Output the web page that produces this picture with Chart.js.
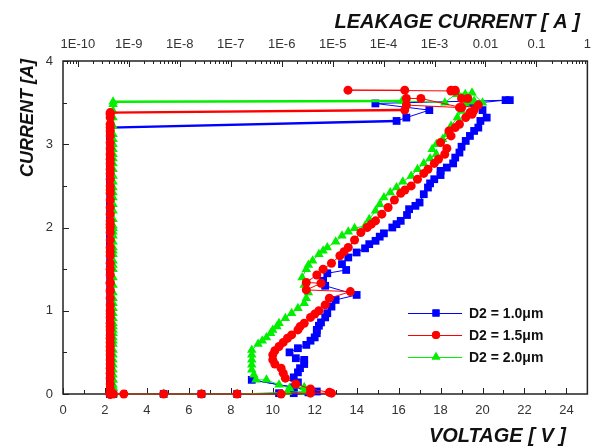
<!DOCTYPE html>
<html>
<head>
<meta charset="utf-8">
<script src="https://cdn.jsdelivr.net/npm/chart.js@4.4.0/dist/chart.umd.min.js"></script>
<style>
  html, body { margin: 0; padding: 0; background: #fff; }
  #wrap { width: 600px; height: 447px; }
</style>
</head>
<body>
<div id="wrap"><canvas id="tlpChart" width="600" height="447"></canvas></div>
<script>
// TLP I-V (bottom axis, voltage) plus leakage after each pulse (top axis)
const seriesNames = ['D2 = 1.0\u03bcm', 'D2 = 1.5\u03bcm', 'D2 = 2.0\u03bcm'];
const leakageTicks = [1e-10, 1e-9, 1e-8, 1e-7, 1e-6, 1e-5, 1e-4, 1e-3, 0.01, 0.1, 1];

// D2 = 1.0um
const blueCurrent = [0, 0, 0, 0, 0.01, 0.01, 0.02, 0.03,
  0.17, 0.08, 0.14, 0.2, 0.26, 0.31, 0.36, 0.41, 0.43, 0.5,
  0.55, 0.59, 0.64, 0.68, 0.73, 0.77, 0.82, 0.86, 0.92, 0.97,
  1.05, 1.13, 1.19, 1.3, 1.36, 1.45, 1.49, 1.56, 1.64, 1.7,
  1.75, 1.8, 1.84, 1.89, 1.93, 2.0, 2.04, 2.08, 2.15, 2.22,
  2.26, 2.3, 2.4, 2.48, 2.53, 2.58, 2.63, 2.68, 2.72, 2.77,
  2.84, 2.9, 2.97, 3.04, 3.1, 3.16, 3.2,
  3.28, 3.32, 3.41, 3.49, 3.53];
const blueVoltage = [2.4, 4.8, 6.6, 8.3, 10.3, 11.0, 11.7, 12.1,
  9.0, 11.0, 11.2, 11.0, 11.2, 11.3, 11.5, 11.5, 11.1, 10.8,
  11.2, 11.6, 11.8, 12.0, 12.1, 12.1, 12.2, 12.3, 12.5, 12.6,
  12.8, 13.0, 14.0, 12.5, 12.4, 12.6, 13.5, 13.3, 13.6, 14.0,
  14.4, 14.6, 14.9, 15.1, 15.3, 15.7, 15.9, 16.1, 16.4, 16.5,
  16.8, 17.0, 17.2, 17.4, 17.5, 17.7, 18.0, 18.0, 18.3, 18.6,
  18.7, 18.9, 19.0, 19.2, 19.4, 19.6, 19.8,
  19.9, 20.2, 20.0, 19.5, 21.1];
const blueLeakage = [4.3e-10, 4.3e-10, 4.3e-10, 4.3e-10, 4.3e-10, 4.3e-10, 4.3e-10, 4.3e-10,
  4.3e-10, 4.3e-10, 4.3e-10, 4.3e-10, 4.3e-10, 4.3e-10, 4.3e-10, 4.3e-10, 4.3e-10, 4.3e-10,
  4.3e-10, 4.3e-10, 4.3e-10, 4.3e-10, 4.3e-10, 4.3e-10, 4.3e-10, 4.3e-10, 4.3e-10, 4.3e-10,
  4.3e-10, 4.3e-10, 4.3e-10, 4.3e-10, 4.3e-10, 4.3e-10, 4.3e-10, 4.3e-10, 4.3e-10, 4.3e-10,
  4.3e-10, 4.3e-10, 4.3e-10, 4.3e-10, 4.3e-10, 4.3e-10, 4.3e-10, 4.3e-10, 4.3e-10, 4.3e-10,
  4.3e-10, 4.3e-10, 4.3e-10, 4.3e-10, 4.3e-10, 4.3e-10, 4.3e-10, 4.3e-10, 4.3e-10, 4.3e-10,
  4.3e-10, 4.3e-10, 4.3e-10, 4.3e-10, 4.3e-10, 4.3e-10, 4.3e-10,
  1.8e-4, 2.8e-4, 7.9e-4, 6.9e-5, 0.03];

// D2 = 1.5um
const redCurrent = [0, 0, 0, 0, 0, 0, 0.01, 0.01,
  0.02, 0.06, 0.12, 0.19, 0.25, 0.31, 0.36, 0.41, 0.47, 0.52,
  0.57, 0.62, 0.67, 0.71, 0.77, 0.81, 0.85, 0.92, 0.96, 1.0,
  1.07, 1.15, 1.23, 1.25, 1.33, 1.34, 1.43, 1.5, 1.57, 1.66,
  1.71, 1.76, 1.85, 1.94, 2.0, 2.04, 2.08, 2.16, 2.24, 2.33,
  2.41, 2.45, 2.5, 2.58, 2.65, 2.7, 2.77, 2.82, 2.88, 2.95,
  3.02, 3.1, 3.16, 3.2, 3.24, 3.32, 3.36, 3.38,
  3.41, 3.47, 3.44, 3.55, 3.55, 3.65, 3.65, 3.64];
const redVoltage = [2.4, 2.9, 4.8, 6.6, 8.3, 10.4, 11.8, 12.8,
  12.7, 11.8, 11.1, 10.6, 10.5, 10.4, 10.1, 10.0, 10.0, 10.1,
  10.3, 10.5, 10.7, 10.9, 11.2, 11.3, 11.5, 11.8, 12.0, 12.2,
  12.5, 12.7, 13.7, 11.6, 12.3, 11.6, 12.1, 12.4, 12.8, 13.2,
  13.4, 13.6, 13.9, 14.2, 14.5, 14.7, 14.9, 15.2, 15.5, 15.8,
  16.1, 16.3, 16.6, 16.9, 17.2, 17.4, 17.7, 17.9, 18.2, 18.3,
  18.0, 18.5, 18.4, 18.7, 18.9, 19.2, 19.5, 19.4,
  19.6, 19.8, 18.9, 19.3, 19.0, 18.7, 18.5, 18.5];
const redLeakage = [4.3e-10, 4.3e-10, 4.3e-10, 4.3e-10, 4.3e-10, 4.3e-10, 4.3e-10, 4.3e-10,
  4.3e-10, 4.3e-10, 4.3e-10, 4.3e-10, 4.3e-10, 4.3e-10, 4.3e-10, 4.3e-10, 4.3e-10, 4.3e-10,
  4.3e-10, 4.3e-10, 4.3e-10, 4.3e-10, 4.3e-10, 4.3e-10, 4.3e-10, 4.3e-10, 4.3e-10, 4.3e-10,
  4.3e-10, 4.3e-10, 4.3e-10, 4.3e-10, 4.3e-10, 4.3e-10, 4.3e-10, 4.3e-10, 4.3e-10, 4.3e-10,
  4.3e-10, 4.3e-10, 4.3e-10, 4.3e-10, 4.3e-10, 4.3e-10, 4.3e-10, 4.3e-10, 4.3e-10, 4.3e-10,
  4.3e-10, 4.3e-10, 4.3e-10, 4.3e-10, 4.3e-10, 4.3e-10, 4.3e-10, 4.3e-10, 4.3e-10, 4.3e-10,
  4.3e-10, 4.3e-10, 4.3e-10, 4.3e-10, 4.3e-10, 4.3e-10, 4.3e-10, 4.3e-10,
  2.6e-4, 2.8e-4, 3.4e-3, 5.4e-4, 2.8e-4, 2.6e-4, 2.0e-5, 2.5e-3];

// D2 = 2.0um
const greenCurrent = [0, 0, 0, 0, 0.02, 0.03, 0.08, 0.07, 0.11, 0.17,
  0.17, 0.23, 0.29, 0.35, 0.41, 0.47, 0.53, 0.6, 0.64, 0.68,
  0.73, 0.77, 0.81, 0.85, 0.91, 0.97, 1.03, 1.09, 1.15, 1.22,
  1.31, 1.4, 1.5, 1.55, 1.6, 1.68, 1.72, 1.76, 1.83, 1.9,
  1.95, 1.99, 2.02, 2.1, 2.2, 2.28, 2.36, 2.42, 2.48, 2.55,
  2.62, 2.7, 2.77, 2.83, 2.88, 2.94, 3.0, 3.06, 3.12, 3.22,
  3.32, 3.4, 3.48, 3.51,
  3.52, 3.5, 3.62, 3.6];
const greenVoltage = [2.4, 4.8, 6.6, 8.3, 10.7, 11.5, 11.5, 10.8, 10.3, 9.7,
  9.2, 9.1, 9.0, 9.0, 9.0, 9.0, 9.0, 9.3, 9.5, 9.7,
  9.9, 10.0, 10.2, 10.3, 10.6, 10.9, 11.2, 11.5, 11.6, 11.7,
  11.5, 11.4, 11.6, 11.7, 11.9, 12.2, 12.4, 12.6, 13.0, 13.3,
  13.6, 13.9, 14.4, 14.6, 14.9, 15.1, 15.3, 15.6, 15.9, 16.2,
  16.6, 16.9, 17.2, 17.5, 17.8, 17.6, 17.8, 18.1, 18.3, 18.5,
  18.8, 19.0, 19.2, 19.4,
  19.6, 20.0, 19.5, 18.8];
const greenLeakage = [4.9e-10, 4.9e-10, 4.9e-10, 4.9e-10, 4.9e-10, 4.9e-10, 4.9e-10, 4.9e-10, 4.9e-10, 4.9e-10,
  4.9e-10, 4.9e-10, 4.9e-10, 4.9e-10, 4.9e-10, 4.9e-10, 4.9e-10, 4.9e-10, 4.9e-10, 4.9e-10,
  4.9e-10, 4.9e-10, 4.9e-10, 4.9e-10, 4.9e-10, 4.9e-10, 4.9e-10, 4.9e-10, 4.9e-10, 4.9e-10,
  4.9e-10, 4.9e-10, 4.9e-10, 4.9e-10, 4.9e-10, 4.9e-10, 4.9e-10, 4.9e-10, 4.9e-10, 4.9e-10,
  4.9e-10, 4.9e-10, 4.9e-10, 4.9e-10, 4.9e-10, 4.9e-10, 4.9e-10, 4.9e-10, 4.9e-10, 4.9e-10,
  4.9e-10, 4.9e-10, 4.9e-10, 4.9e-10, 4.9e-10, 4.9e-10, 4.9e-10, 4.9e-10, 4.9e-10, 4.9e-10,
  4.9e-10, 4.9e-10, 4.9e-10, 4.9e-10,
  2.3e-4, 1.6e-3, 2.8e-3, 4.0e-3];

const BLUE = 'rgb(0,0,255)';
const RED = 'rgb(255,0,0)';
const GREEN = 'rgb(0,240,0)';
const FONT = '"Liberation Sans", Arial, sans-serif';

const pairs = (xs, ys) => xs.map((x, i) => ({ x: x, y: ys[i] }));

const ivSet = (label, xs, ys, color, style, radius, order) => ({
  label: label,
  data: pairs(xs, ys),
  xAxisID: 'x',
  yAxisID: 'y',
  showLine: true,
  borderColor: color,
  backgroundColor: color,
  borderWidth: 1,
  pointStyle: style,
  pointRadius: radius,
  pointBorderWidth: 0,
  order: order,
  clip: false
});

const leakSet = (label, xs, ys, color, style, radius, order) => ({
  label: label,
  data: pairs(xs, ys),
  xAxisID: 'x2',
  yAxisID: 'y',
  showLine: true,
  borderColor: color,
  backgroundColor: color,
  borderWidth: 2.5,
  segment: {
    borderWidth: ctx => (ctx.p0.parsed.x > 1e-6 ? 1 : 2.5)
  },
  pointStyle: style,
  pointRadius: radius,
  pointBorderWidth: 0,
  order: order,
  clip: false
});

// frame, inward ticks, axis titles and the in-plot legend
const decorations = {
  id: 'decorations',
  beforeDatasetsDraw(chart) {
    const { ctx, chartArea: a, scales } = chart;
    ctx.save();
    ctx.strokeStyle = '#222';
    ctx.lineWidth = 1;
    ctx.beginPath();
    // bottom ticks
    for (let v = 0; v <= 25; v++) {
      const px = Math.round(scales.x.getPixelForValue(v)) + 0.5;
      const len = v % 2 === 0 ? 6 : 4;
      ctx.moveTo(px, a.bottom);
      ctx.lineTo(px, a.bottom - len);
    }
    // left ticks
    for (let v = 0; v <= 4; v += 0.5) {
      const py = Math.round(scales.y.getPixelForValue(v)) + 0.5;
      const len = v % 1 === 0 ? 6 : 4;
      ctx.moveTo(a.left, py);
      ctx.lineTo(a.left + len, py);
    }
    // top log ticks
    for (let e = -11; e <= 0; e++) {
      for (let m = 1; m <= 9; m++) {
        const val = m * Math.pow(10, e);
        if (val < scales.x2.min || val > scales.x2.max) continue;
        const px = Math.round(scales.x2.getPixelForValue(val)) + 0.5;
        const len = m === 1 ? 6 : 3;
        ctx.moveTo(px, a.top);
        ctx.lineTo(px, a.top + len);
      }
    }
    ctx.stroke();
    ctx.lineWidth = 1.5;
    ctx.strokeRect(a.left, a.top, a.right - a.left, a.bottom - a.top);
    ctx.restore();
  },
  afterDraw(chart) {
    const { ctx } = chart;
    ctx.save();
    ctx.fillStyle = '#111';
    ctx.font = 'italic bold 20px ' + FONT;
    ctx.textBaseline = 'alphabetic';
    ctx.textAlign = 'right';
    ctx.fillText('LEAKAGE CURRENT [ A ]', 580, 28);
    ctx.fillText('VOLTAGE [ V ]', 566, 442);
    ctx.save();
    ctx.translate(33, 118);
    ctx.rotate(-Math.PI / 2);
    ctx.textAlign = 'center';
    ctx.font = 'italic bold 18px ' + FONT;
    ctx.fillText('CURRENT [A]', 0, 0);
    ctx.restore();

    // legend
    const colors = [BLUE, RED, GREEN];
    const styles = ['rect', 'circle', 'triangle'];
    const rows = [313, 335, 357];
    ctx.font = 'bold 14px ' + FONT;
    ctx.textAlign = 'left';
    ctx.textBaseline = 'middle';
    for (let i = 0; i < 3; i++) {
      const y = rows[i];
      ctx.strokeStyle = colors[i];
      ctx.lineWidth = 1;
      ctx.beginPath();
      ctx.moveTo(408, y + 0.5);
      ctx.lineTo(462, y + 0.5);
      ctx.stroke();
      ctx.fillStyle = colors[i];
      Chart.helpers.drawPoint(ctx, { pointStyle: styles[i], radius: styles[i] === 'circle' ? 4 : 5, borderWidth: 0 }, 436, y);
      ctx.fill();
      ctx.fillStyle = '#111';
      ctx.fillText(seriesNames[i], 469, y + 1);
    }
    ctx.restore();
  }
};

const tickFont = { family: FONT, size: 13 };

new Chart(document.getElementById('tlpChart'), {
  type: 'scatter',
  data: {
    datasets: [
      ivSet(seriesNames[0], blueVoltage, blueCurrent, BLUE, 'rect', 5.5, 5),
      leakSet(seriesNames[0], blueLeakage, blueCurrent, BLUE, 'rect', 5.5, 4),
      ivSet(seriesNames[2], greenVoltage, greenCurrent, GREEN, 'triangle', 5.5, 3),
      leakSet(seriesNames[2], greenLeakage, greenCurrent, GREEN, 'triangle', 5.5, 2),
      ivSet(seriesNames[1], redVoltage, redCurrent, RED, 'circle', 4.5, 1),
      leakSet(seriesNames[1], redLeakage, redCurrent, RED, 'circle', 4.5, 0)
    ]
  },
  options: {
    responsive: false,
    animation: false,
    devicePixelRatio: 1,
    layout: { padding: { left: 0, right: 12, top: 0, bottom: 0 } },
    plugins: {
      legend: { display: false },
      tooltip: { enabled: false }
    },
    scales: {
      x: {
        type: 'linear',
        position: 'bottom',
        min: 0,
        max: 25,
        grid: { display: false, drawTicks: false },
        border: { display: false },
        ticks: {
          stepSize: 2,
          includeBounds: false,
          padding: 9,
          color: '#333',
          font: tickFont,
          maxRotation: 0
        },
        afterFit(scale) { scale.height = 53; }
      },
      x2: {
        type: 'logarithmic',
        position: 'top',
        min: 5.1e-11,
        max: 1,
        grid: { display: false, drawTicks: false },
        border: { display: false },
        afterBuildTicks(scale) {
          scale.ticks = leakageTicks.map(v => ({ value: v }));
        },
        ticks: {
          autoSkip: false,
          maxRotation: 0,
          padding: 9,
          color: '#333',
          font: tickFont,
          callback(value) {
            if (value >= 0.01) return String(value);
            return '1E' + Math.round(Math.log10(value));
          }
        },
        afterFit(scale) { scale.height = 61; }
      },
      y: {
        type: 'linear',
        min: 0,
        max: 4,
        grid: { display: false, drawTicks: false },
        border: { display: false },
        ticks: {
          stepSize: 1,
          padding: 10,
          color: '#333',
          font: tickFont
        },
        afterFit(scale) { scale.width = 63; }
      }
    }
  },
  plugins: [decorations]
});
</script>
</body>
</html>
